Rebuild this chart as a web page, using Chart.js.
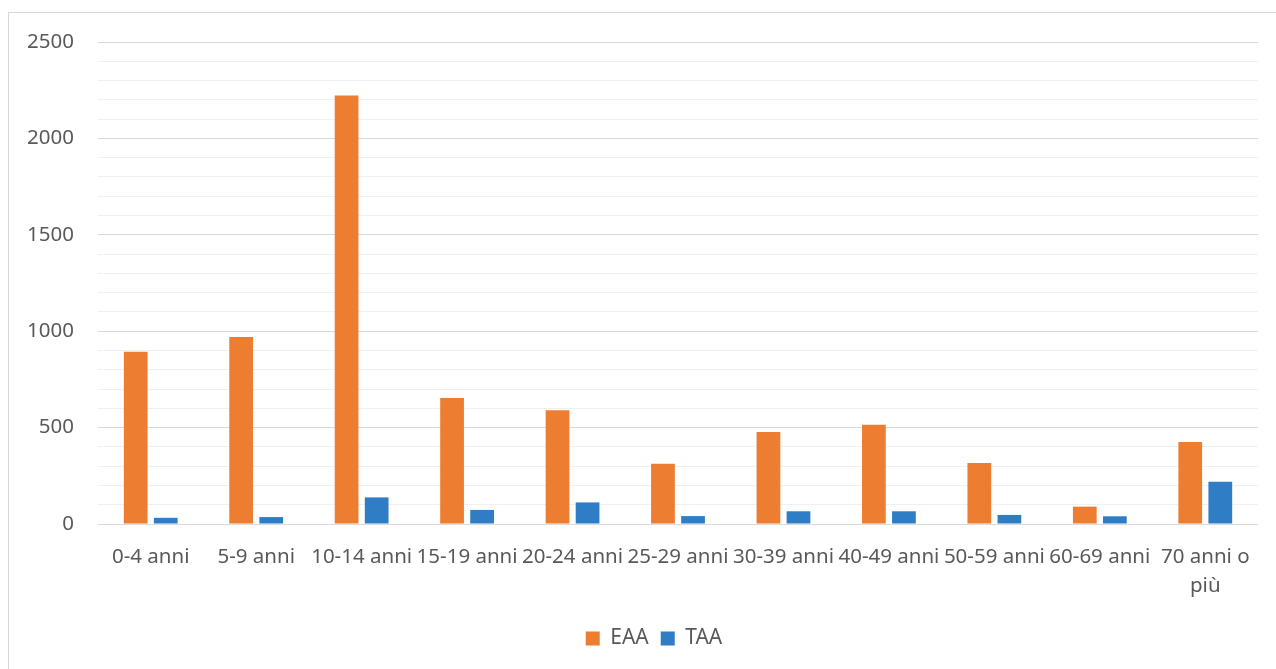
<!DOCTYPE html>
<html>
<head>
<meta charset="utf-8">
<script src="https://cdn.jsdelivr.net/npm/chart.js@4/dist/chart.umd.min.js"></script>
<style>
  html, body { margin: 0; padding: 0; background: #ffffff; overflow: hidden; }
  #frame { position: absolute; left: 8px; top: 12px; width: 1300px; height: 700px; border: 1px solid #d9d9d9; box-sizing: border-box; }
  #wrap { position: absolute; left: 0; top: 0; width: 1276px; height: 669px; }
</style>
</head>
<body>
<div id="frame"></div>
<div id="wrap"><canvas id="chart" width="1276" height="669"></canvas></div>
<script>
// Age groups
const categories = [
  '0-4 anni', '5-9 anni', '10-14 anni', '15-19 anni', '20-24 anni',
  '25-29 anni', '30-39 anni', '40-49 anni', '50-59 anni', '60-69 anni',
  ['70 anni o', 'più']
];
// Series values per age group
const eaaValues = [893, 970, 2223, 653, 590, 313, 477, 515, 316, 90, 425];
const taaValues = [32, 36, 138, 73, 112, 41, 66, 66, 47, 40, 219];
// Labelled y ticks (gridlines every 100, labels every 500)
const yTickLabels = [0, 500, 1000, 1500, 2000, 2500];

const textColor = '#595959';
const fontFamily = '"Noto Sans", "Open Sans", sans-serif';

// Nudges the legend block so it sits centred under the whole frame
const legendShift = {
  id: 'legendShift',
  afterLayout(chart) {
    const lg = chart.legend;
    if (lg) { lg.left += 25; lg.right += 25; }
  }
};

new Chart(document.getElementById('chart'), {
  type: 'bar',
  data: {
    labels: categories,
    datasets: [
      { label: 'EAA', data: eaaValues, backgroundColor: '#ED7D31', borderWidth: 0 },
      { label: 'TAA', data: taaValues, backgroundColor: '#2E7DC5', borderWidth: 0 }
    ]
  },
  plugins: [legendShift],
  options: {
    responsive: false,
    animation: false,
    categoryPercentage: 0.57,
    barPercentage: 0.79,
    layout: { padding: { left: 0, right: 18, top: 42, bottom: 10 } },
    plugins: {
      legend: {
        position: 'bottom',
        labels: {
          boxWidth: 14, boxHeight: 14, padding: 12,
          color: textColor,
          font: { family: fontFamily, size: 21 }
        }
      },
      tooltip: { enabled: false }
    },
    scales: {
      x: {
        grid: { display: false },
        border: { display: false },
        afterFit: (scale) => { scale.height = 92; },
        ticks: {
          autoSkip: false, maxRotation: 0, minRotation: 0,
          padding: 10,
          color: textColor,
          font: { family: fontFamily, size: 20.5, lineHeight: 1.45 }
        }
      },
      y: {
        min: 0, max: 2500,
        afterFit: (scale) => { scale.width = 98; },
        border: { display: false },
        grid: {
          drawTicks: false,
          lineWidth: 1,
          color: (ctx) => (ctx.tick && yTickLabels.includes(ctx.tick.value)) ? '#d9d9d9' : '#f0f0f0'
        },
        ticks: {
          autoSkip: false,
          stepSize: 100,
          padding: 24,
          color: textColor,
          font: { family: fontFamily, size: 20.5 },
          callback: (v) => yTickLabels.includes(v) ? String(v) : ''
        }
      }
    }
  }
});
</script>
</body>
</html>
